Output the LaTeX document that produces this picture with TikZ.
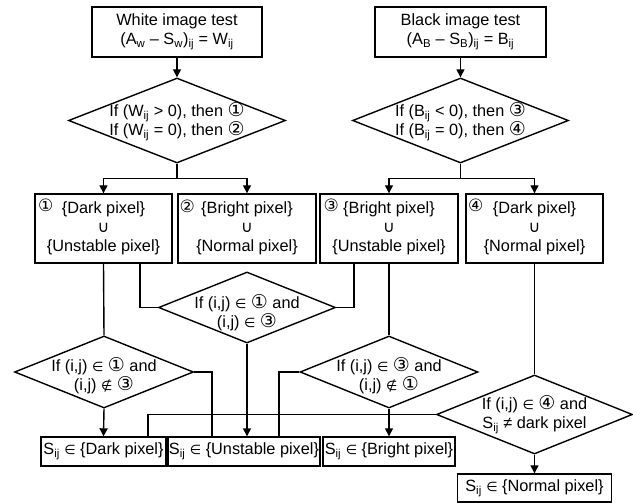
\documentclass[tikz,border=0pt]{standalone}
\usepackage{fontspec}
\setmainfont{Liberation Sans}
\newfontfamily\dv{DejaVu Sans}
\usetikzlibrary{shapes.geometric,arrows.meta}
\newcommand{\cnum}[1]{{\dv\fontsize{19}{16}\selectfont #1}}
\newcommand{\elt}{{\dv\fontsize{13}{13}\selectfont ∈}}
\newcommand{\nelt}{{\dv\fontsize{13}{13}\selectfont ∉}}
\newcommand{\unionsym}{{\dv\fontsize{16}{13}\selectfont ∪}}
\newcommand{\sub}[1]{\textsubscript{#1}}
\begin{document}
\begin{tikzpicture}[x=1pt,y=-1pt,
  basefont/.style={font=\fontsize{16.3}{19}\selectfont},
  box/.style={draw, line width=1.4pt, inner sep=0, align=center, basefont},
  dia/.style={draw, diamond, line width=1.4pt, inner sep=0},
  txt/.style={inner sep=0, align=center, basefont},
  cn/.style={inner sep=0, font=\dv\fontsize{17}{17}\selectfont},
  conn/.style={line width=1.4pt},
  arr/.style={conn, -{Triangle[length=8pt,width=8pt]}}]
\useasboundingbox (0,0) rectangle (633,503);

% top boxes
\node[box, minimum width=170pt, minimum height=50pt] (b1) at (177,32)
  {White image test\\(A\sub{w} – S\sub{w})\sub{ij} = W\sub{ij}};
\node[box, minimum width=171pt, minimum height=50pt] (b2) at (460.5,32)
  {Black image test\\(A\sub{B} – S\sub{B})\sub{ij} = B\sub{ij}};

% first diamonds
\node[dia, minimum width=217pt, minimum height=85pt] (d1) at (177,120.5) {};
\node[txt] (d1t) at (177,121.5) {If (W\sub{ij} > 0), then \cnum{①}\\If (W\sub{ij} = 0), then \cnum{②}};
\node[dia, minimum width=216pt, minimum height=85pt] (d2) at (460.5,120.5) {};
\node[txt] (d2t) at (460.5,121.5) {If (B\sub{ij} < 0), then \cnum{③}\\If (B\sub{ij} = 0), then \cnum{④}};

% row 2 boxes
\node[box, minimum width=137pt, minimum height=69pt] (r1) at (103.5,228.5)
  {\{Dark pixel\}\\\unionsym\\\{Unstable pixel\}};
\node[box, minimum width=138pt, minimum height=69pt] (r2) at (247,228.5)
  {\{Bright pixel\}\\\unionsym\\\{Normal pixel\}};
\node[box, minimum width=138pt, minimum height=69pt] (r3) at (389,228.5)
  {\{Bright pixel\}\\\unionsym\\\{Unstable pixel\}};
\node[box, minimum width=137pt, minimum height=69pt] (r4) at (534.5,228.5)
  {\{Dark pixel\}\\\unionsym\\\{Normal pixel\}};
\node[cn] (r1n) at ([xshift=11.5pt,yshift=-12pt]r1.north west) {①};
\node[cn] (r2n) at ([xshift=10pt,yshift=-13pt]r2.north west) {②};
\node[cn] (r3n) at ([xshift=12pt,yshift=-12pt]r3.north west) {③};
\node[cn] (r4n) at ([xshift=10.5pt,yshift=-12pt]r4.north west) {④};

% middle diamonds
\node[dia, minimum width=177pt, minimum height=71pt] (dm) at (247,307.5) {};
\node[txt] (dmt) at (247,312.5) {If (i,j) \elt{} \cnum{①} and\\(i,j) \elt{} \cnum{③}};
\node[dia, minimum width=179pt, minimum height=72pt] (dl) at (104,372) {};
\node[txt] (dlt) at (104,376) {If (i,j) \elt{} \cnum{①} and\\(i,j) \nelt{} \cnum{③}};
\node[dia, minimum width=178pt, minimum height=72pt] (dr) at (389,372) {};
\node[txt] (drt) at (389,376) {If (i,j) \elt{} \cnum{③} and\\(i,j) \nelt{} \cnum{①}};
\node[dia, minimum width=196pt, minimum height=79pt] (d4) at (534.5,414.5) {};
\node[txt] (d4t) at (534.5,414.5) {If (i,j) \elt{} \cnum{④} and\\S\sub{ij} ≠ dark pixel};

% bottom boxes
\node[box, minimum width=125pt, minimum height=29pt] (s1) at (103.5,451.5)
  {S\sub{ij} \elt{} \{Dark pixel\}};
\node[box, minimum width=152pt, minimum height=29pt] (s2) at (244,451.5)
  {S\sub{ij} \elt{} \{Unstable pixel\}};
\node[box, minimum width=132pt, minimum height=29pt] (s3) at (389,451.5)
  {S\sub{ij} \elt{} \{Bright pixel\}};
\node[box, minimum width=154pt, minimum height=28pt] (s4) at (534.5,488)
  {S\sub{ij} \elt{} \{Normal pixel\}};

% connectors
\draw[arr] (b1.south) -- (d1.north);
\draw[arr] (b2.south) -- (d2.north);
\draw[arr] (d1.south) -- ++(0,15) -| (r1.north);
\draw[arr] (d1.south) -- ++(0,15) -| (r2.north);
\draw[arr] (d2.south) -- ++(0,15) -| (r3.north);
\draw[arr] (d2.south) -- ++(0,15) -| (r4.north);
\draw[conn] (r1.south) -- (dl.north);
\draw[conn] ([xshift=36.5pt]r1.south) |- (dm.west);
\draw[conn] ([xshift=-35pt]r3.south) |- (dm.east);
\draw[conn] (r3.south) -- (dr.north);
\draw[conn] (r4.south) -- (d4.north);
\draw[arr] (dl.south) -- (s1.north);
\draw[conn] (dl.east) -| ([xshift=-32pt]s2.north);
\draw[arr] (dm.south) -- (dm.south |- s2.north);
\draw[conn] (dr.west) -| ([xshift=35pt]s2.north);
\draw[arr] (dr.south) -- (s3.north);
\draw[conn] (d4.west) -| ([xshift=44.5pt]s1.north);
\draw[arr] (d4.south) -- (s4.north);
\end{tikzpicture}
\end{document}
